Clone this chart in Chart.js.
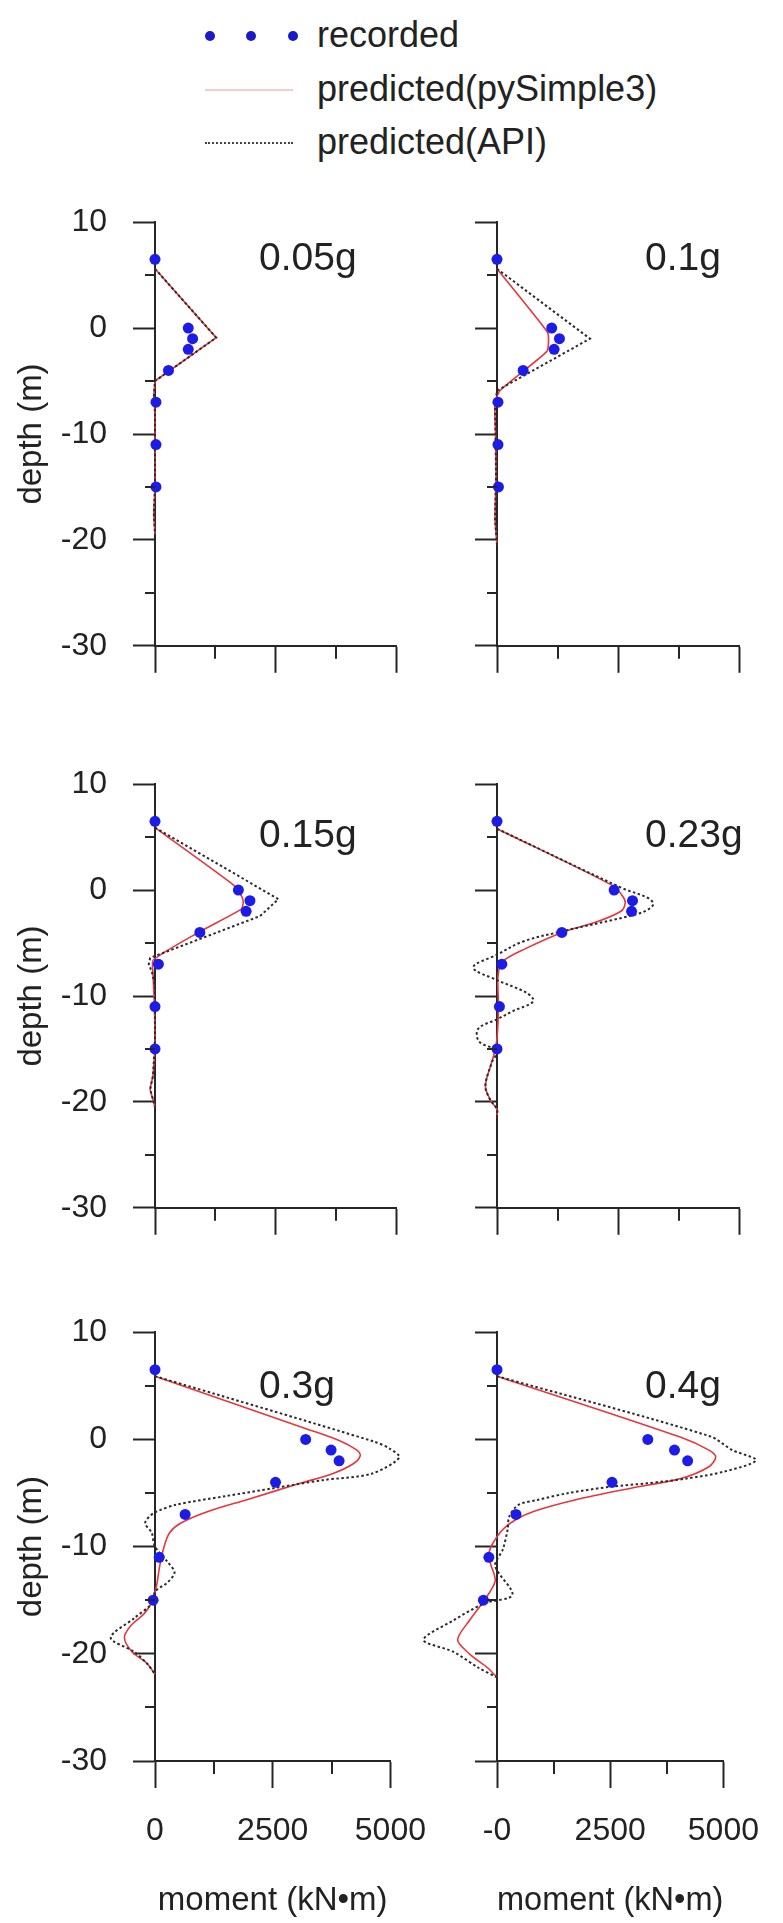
<!DOCTYPE html>
<html>
<head>
<meta charset="utf-8">
<title>Bending moment profiles</title>
<script src="https://cdn.jsdelivr.net/npm/chart.js@4.4.1/dist/chart.umd.min.js"></script>
<style>
  html, body { margin: 0; padding: 0; background: #fff; }
  #page { position: relative; width: 783px; height: 1923px; overflow: hidden;
          font-family: 'Liberation Sans', Arial, sans-serif; color: #222; }
  #page canvas { position: absolute; }
  .lg-text { position: absolute; left: 317px; font-size: 36px; line-height: 36px; white-space: nowrap; }
  .lg-dot  { position: absolute; top: 31px; width: 10px; height: 10px; border-radius: 50%; background: #1a1ac8; }
  .lg-line { position: absolute; left: 205px; width: 88px; }
</style>
</head>
<body>
<div id="page">
  <div class="lg-dot" style="left:205px"></div>
  <div class="lg-dot" style="left:246px"></div>
  <div class="lg-dot" style="left:288px"></div>
  <div class="lg-text" style="top:17px">recorded</div>
  <div class="lg-line" style="top:89px;height:2px;background:#f3cccc"></div>
  <div class="lg-text" style="top:71px">predicted(pySimple3)</div>
  <div class="lg-line" style="top:142px;border-top:2px dotted #444"></div>
  <div class="lg-text" style="top:124px">predicted(API)</div>
</div>
<script>
// ── Data ─────────────────────────────────────────────────────────────
// gauge depths (m), same for every shaking level
const recDepth = [6.5, 0, -1, -2, -4, -7, -11, -15];

// recorded moments (kN·m) at recDepth
const rec005 = [0, 690, 780, 690, 280, 20, 20, 20];
const rec010 = [0, 1130, 1290, 1180, 540, 20, 20, 30];
const rec015 = [0, 1730, 1970, 1890, 930, 70, 0, 0];
const rec023 = [0, 2420, 2800, 2780, 1340, 100, 50, 0];
const rec030 = [0, 3200, 3740, 3910, 2560, 640, 90, -40];
const rec040 = [0, 3330, 3920, 4210, 2540, 420, -180, -300];

// predicted profiles, [moment (kN·m), depth (m)]
const sim005 = [[0, 5.6], [1270, -0.9], [0, -5.0], [-25, -6.5], [0, -8], [0, -15], [-25, -17.5], [0, -19.5]];
const api005 = [[0, 5.6], [1270, -0.9], [0, -5.0], [-25, -6.5], [0, -8], [0, -15], [-25, -17.5], [0, -19.5]];

const sim010 = [[0, 5.6], [1030, -0.3], [1065, -1.0], [1030, -2.2], [60, -5.9], [-40, -7.2], [-30, -10],
                [-20, -14], [-40, -18], [0, -20.5]];
const api010 = [[0, 5.6], [1920, -1.0], [0, -5.9], [-40, -7.2], [-30, -10], [-20, -14], [-40, -18], [0, -20.5]];

const sim015 = [[0, 5.9], [1625, 0.5], [1800, -0.6], [1830, -1.2], [1790, -1.8], [940, -3.9], [-35, -6.6],
                [-40, -8], [-20, -10], [0, -14], [-40, -17.5], [-100, -18.8], [-40, -19.8], [0, -20.5]];
const api015 = [[0, 5.9], [2560, -0.85], [2180, -2.45], [-100, -6.4], [-130, -7], [-60, -7.8], [0, -9],
                [0, -14], [-40, -17.5], [-100, -18.8], [-40, -19.8], [0, -20.5]];

const sim023 = [[0, 5.8], [2400, 0.4], [2600, -0.6], [2650, -1.2], [2560, -2.0], [2060, -3.0], [1400, -3.9],
                [600, -5.5], [100, -6.8], [20, -8.2], [30, -11], [0, -14], [-60, -15.5], [-140, -16.7],
                [-240, -18.5], [-140, -19.8], [0, -20.7], [0, -21.5]];
const api023 = [[0, 5.8], [2580, 0.2], [3100, -0.7], [3230, -1.3], [3100, -1.9], [2780, -2.4], [1340, -3.9],
                [540, -4.85], [0, -6.1], [-490, -7.3], [0, -8.5], [610, -9.7], [750, -10.5], [340, -11.4],
                [0, -12.2], [-390, -13.1], [-370, -14.3], [0, -15.2], [-100, -16.2], [-240, -18.5],
                [-140, -19.8], [0, -20.7], [0, -21.5]];

const sim030 = [[0, 5.9], [3210, 1.0], [3910, -0.1], [4290, -1.0], [4360, -1.5], [4220, -2.25], [3770, -3.2],
                [3080, -4.1], [1970, -5.6], [1140, -6.7], [550, -7.8], [310, -8.7], [200, -9.9], [100, -11.8],
                [35, -13.6], [-70, -15.2], [-240, -16.3], [-520, -17.4], [-650, -18.5], [-490, -19.8],
                [-170, -20.9], [0, -21.9]];
const api030 = [[0, 5.9], [4650, -0.2], [5000, -0.9], [5190, -1.7], [4600, -3.2], [3560, -3.8], [2520, -4.55],
                [1490, -5.3], [450, -6.1], [-35, -6.9], [-210, -7.8], [-70, -8.7], [0, -10], [280, -11.5],
                [415, -12.4], [280, -13.3], [0, -14.2], [-40, -15.2], [-450, -16.7], [-940, -18.5],
                [-450, -19.8], [-170, -20.9], [0, -21.9]];

const sim040 = [[0, 5.9], [4060, 0.2], [4680, -1.0], [4830, -1.65], [4680, -2.55], [4060, -3.65], [2960, -4.55],
                [1720, -5.65], [820, -6.7], [410, -7.5], [130, -8.4], [-80, -9.6], [-170, -10.5], [-150, -11.5],
                [-40, -13.2], [-280, -15], [-610, -16.9], [-870, -18.7], [-610, -20], [-210, -21.3], [0, -22.2]];
const api040 = [[0, 5.9], [4700, 0.3], [5200, -1.0], [5720, -1.95], [5020, -3.0], [4190, -3.65], [3300, -4.1],
                [2540, -4.4], [1580, -5.0], [890, -5.65], [475, -6.1], [270, -7.2], [235, -8.4], [130, -10.25],
                [-40, -11.8], [340, -14.5], [-280, -15.3], [-970, -16.9], [-1620, -18.7], [-970, -19.8],
                [-410, -21.3], [0, -22.2]];

const panelLabels = ['0.05g', '0.1g', '0.15g', '0.23g', '0.3g', '0.4g'];
const yTickLabels = ['-30', '-20', '-10', '0', '10'];
const xTickLabelsLeft  = ['0', '2500', '5000'];
const xTickLabelsRight = ['-0', '2500', '5000'];
const yMinorTicks = [-25, -15, -5, 5];
const xMinorTicks = [1250, 3750];

// ── Look ─────────────────────────────────────────────────────────────
const FONT = "'Liberation Sans', Arial, sans-serif";
const INK  = '#222';
const AXIS = '#262626';
const C = { rec: '#1c1ce6', sim: '#e8363c', api: '#2b2b2b' };

Chart.defaults.font.family = FONT;
Chart.defaults.color = INK;

// page geometry of the six plot boxes
const COLS = [
  { canvasLeft: 0,   width: 450, axisLeft: 155, plotRight: 396, labelDx: 104 },
  { canvasLeft: 342, width: 441, axisLeft: 497, plotRight: 739, labelDx: 148 },
];
const ROWS = [
  { plotTop: 217,  labelDy: 48 },
  { plotTop: 779,  labelDy: 63 },
  { plotTop: 1327, labelDy: 66 },
];
const PLOT_H = 434, PAD_TOP = 40;

const panels = [
  { rec: rec005, sim: sim005, api: api005, col: 0, row: 0, tSim: 0,   tApi: 0 },
  { rec: rec010, sim: sim010, api: api010, col: 1, row: 0, tSim: 0.2, tApi: 0 },
  { rec: rec015, sim: sim015, api: api015, col: 0, row: 1, tSim: 0.2, tApi: 0 },
  { rec: rec023, sim: sim023, api: api023, col: 1, row: 1, tSim: 0.3, tApi: 0.35 },
  { rec: rec030, sim: sim030, api: api030, col: 0, row: 2, tSim: 0.3, tApi: 0.3 },
  { rec: rec040, sim: sim040, api: api040, col: 1, row: 2, tSim: 0.3, tApi: 0.3 },
];

// minor ticks + the "0.xg" tag inside each box
const panelDecor = {
  id: 'panelDecor',
  afterDraw(chart, args, opts) {
    const { ctx, chartArea: a, scales } = chart;
    ctx.save();
    ctx.strokeStyle = AXIS;
    ctx.lineWidth = 2;
    ctx.beginPath();
    yMinorTicks.forEach(v => {
      const py = Math.round(scales.y.getPixelForValue(v));
      ctx.moveTo(a.left - 10, py); ctx.lineTo(a.left, py);
    });
    xMinorTicks.forEach(v => {
      const px = Math.round(scales.x.getPixelForValue(v));
      ctx.moveTo(px, a.bottom); ctx.lineTo(px, a.bottom + 13);
    });
    ctx.stroke();
    ctx.fillStyle = INK;
    ctx.font = `39px ${FONT}`;
    ctx.textBaseline = 'alphabetic';
    ctx.textAlign = 'left';
    ctx.fillText(opts.text, a.left + opts.dx, a.top + opts.dy);
    ctx.restore();
  },
};

const toXY = pts => pts.map(([m, d]) => ({ x: m, y: d }));

panels.forEach((p, i) => {
  const col = COLS[p.col], row = ROWS[p.row];
  const left = p.col === 0, bottom = p.row === 2;
  const xAxisH = bottom ? 162 : 40;
  const h = PAD_TOP + PLOT_H + xAxisH;

  const cv = document.createElement('canvas');
  cv.width = col.width; cv.height = h;
  cv.style.left = col.canvasLeft + 'px';
  cv.style.top = (row.plotTop - PAD_TOP) + 'px';
  cv.style.width = col.width + 'px';
  cv.style.height = h + 'px';
  document.getElementById('page').appendChild(cv);

  const xLabels = bottom ? (left ? xTickLabelsLeft : xTickLabelsRight) : null;

  new Chart(cv, {
    type: 'scatter',
    data: {
      datasets: [
        // big hover radius only widens the in-area test so dots left of the axis still draw
        { label: 'recorded', data: p.rec.map((m, k) => ({ x: m, y: recDepth[k] })),
          showLine: false, pointRadius: 5.5, pointHoverRadius: 30, pointBackgroundColor: C.rec,
          pointBorderWidth: 0, clip: false, order: 0 },
        { label: 'predicted(API)', data: toXY(p.api), showLine: true, borderColor: C.api,
          borderWidth: 2, borderDash: [2.5, 2.5], pointRadius: 0, tension: p.tApi, clip: false, order: 1 },
        { label: 'predicted(pySimple3)', data: toXY(p.sim), showLine: true, borderColor: C.sim,
          borderWidth: 1.6, pointRadius: 0, tension: p.tSim, clip: false, order: 2 },
      ],
    },
    options: {
      responsive: false,
      animation: false,
      events: [],
      layout: { padding: { top: PAD_TOP, left: 0, bottom: 0, right: col.canvasLeft + col.width - col.plotRight } },
      elements: { line: { capBezierPoints: false } },
      plugins: {
        legend: { display: false },
        tooltip: { enabled: false },
        panelDecor: { text: panelLabels[i], dx: col.labelDx, dy: row.labelDy },
      },
      scales: {
        x: {
          type: 'linear', min: 0, max: 5000,
          ticks: { stepSize: 2500, padding: 24, color: INK, font: { size: 32 },
                   maxRotation: 0, callback: (v, k) => (xLabels ? xLabels[k] : '') },
          grid: { drawOnChartArea: false, drawTicks: true, tickLength: 27, tickWidth: 2, tickColor: AXIS },
          border: { display: true, color: AXIS, width: 2 },
          title: { display: bottom, text: 'moment (kN•m)', color: INK, font: { size: 33 },
                   padding: { top: 0, bottom: 2 } },
          afterFit: s => { s.height = xAxisH; },
        },
        y: {
          type: 'linear', min: -30, max: 10,
          ticks: { stepSize: 10, padding: 26, color: INK, font: { size: 32 },
                   callback: (v, k) => (left ? yTickLabels[k] : '') },
          grid: { drawOnChartArea: false, drawTicks: true, tickLength: 22, tickWidth: 2, tickColor: AXIS },
          border: { display: true, color: AXIS, width: 2 },
          title: { display: left, text: 'depth (m)', color: INK, font: { size: 33 },
                   padding: { top: 12, bottom: 0 } },
          afterFit: s => { s.width = col.axisLeft - col.canvasLeft; },
        },
      },
    },
    plugins: [panelDecor],
  });
});
</script>
</body>
</html>
